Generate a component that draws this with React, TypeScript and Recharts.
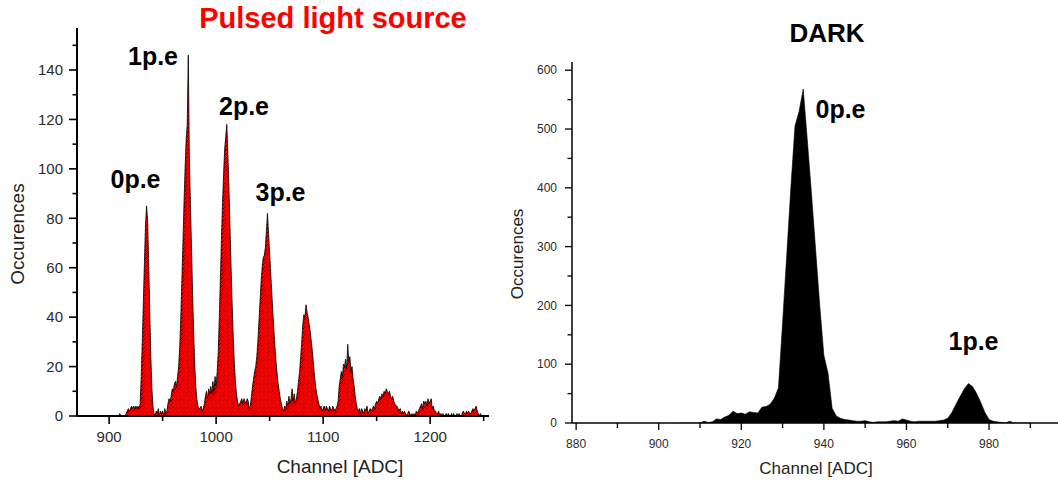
import React from 'react';
import { AreaChart, Area, XAxis, YAxis } from 'recharts';

const FONT = '"Liberation Sans", Arial, Helvetica, sans-serif';

// Pulsed light source: one bin per ADC channel, first bin = 905
const PULSED_FIRST_CHANNEL = 905;
const pulsedCounts = [
  0, 0, 0, 0, 0, 1, 0, 0, 0, 0, // 905
  0, 1, 2, 3, 2, 3, 4, 3, 4, 3, // 915
  4, 3, 4, 3, 5, 16, 30, 46, 62, 77, // 925
  85, 79, 62, 42, 24, 11, 4, 1, 0, 2, // 935
  1, 3, 0, 2, 1, 2, 0, 3, 1, 2, // 945
  5, 7, 6, 8, 11, 10, 13, 14, 12, 16, // 955
  20, 28, 40, 55, 70, 86, 100, 112, 118, 146, // 965
  104, 86, 68, 50, 34, 21, 12, 7, 4, 3, // 975
  3, 4, 2, 3, 5, 8, 10, 7, 11, 9, // 985
  12, 9, 14, 10, 16, 12, 18, 26, 40, 56, // 995
  72, 86, 98, 108, 113, 118, 106, 92, 76, 60, // 1005
  45, 32, 22, 14, 9, 6, 4, 5, 6, 7, // 1015
  5, 7, 6, 5, 7, 6, 3, 4, 8, 12, // 1025
  15, 18, 20, 24, 30, 38, 46, 54, 60, 64, // 1035
  65, 68, 75, 82, 74, 66, 58, 50, 42, 35, // 1045
  28, 22, 17, 13, 10, 7, 5, 3, 2, 4, // 1055
  3, 6, 4, 8, 5, 7, 11, 6, 9, 5, // 1065
  7, 10, 14, 18, 24, 30, 37, 41, 40, 45, // 1075
  42, 40, 37, 34, 30, 26, 21, 16, 12, 9, // 1085
  7, 5, 3, 4, 2, 3, 4, 2, 4, 3, // 1095
  2, 4, 3, 2, 4, 3, 2, 3, 4, 6, // 1105
  12, 15, 18, 16, 21, 20, 23, 19, 29, 22, // 1115
  24, 18, 20, 15, 12, 8, 5, 3, 2, 3, // 1125
  1, 3, 2, 1, 3, 2, 4, 1, 2, 3, // 1135
  2, 3, 4, 3, 5, 6, 5, 7, 8, 7, // 1145
  9, 8, 10, 9, 11, 10, 9, 10, 8, 7, // 1155
  8, 6, 5, 4, 4, 3, 2, 3, 1, 2, // 1165
  1, 2, 1, 0, 1, 2, 1, 0, 1, 0, // 1175
  1, 0, 2, 1, 2, 3, 4, 5, 3, 6, // 1185
  5, 6, 4, 7, 5, 6, 7, 3, 4, 2, // 1195
  2, 1, 1, 2, 0, 1, 0, 1, 0, 0, // 1205
  1, 0, 1, 0, 0, 1, 0, 1, 0, 0, // 1215
  1, 0, 1, 0, 0, 1, 2, 1, 1, 2, // 1225
  1, 2, 1, 1, 2, 3, 2, 3, 4, 2, // 1235
  1, 0, 1, 0, 0, 0, // 1245
];

// Dark counts: one bin per ADC channel, first bin = 905
const DARK_FIRST_CHANNEL = 905;
const darkCounts = [
  0, 0, 0, 0, 0, 0, 3, 1, 2, 7, // 905
  6, 10, 13, 20, 16, 17, 15, 19, 18, 17, // 915
  27, 28, 32, 42, 60, 170, 285, 400, 505, 530, // 925
  568, 480, 390, 295, 200, 115, 85, 25, 12, 8, // 935
  6, 5, 4, 3, 3, 4, 2, 1, 2, 2, // 945
  2, 3, 4, 3, 7, 5, 3, 2, 3, 3, // 955
  3, 3, 3, 4, 5, 8, 18, 32, 45, 58, // 965
  67, 62, 50, 35, 18, 6, 3, 2, 1, 0, // 975
  3, 0, 0, 0, 0, 0, // 985
];

const pulsedXTicks = [900, 950, 1000, 1050, 1100, 1150, 1200, 1250];
const pulsedYTicks = [0, 10, 20, 30, 40, 50, 60, 70, 80, 90, 100, 110, 120, 130, 140, 150];
const darkXTicks = [880, 890, 900, 910, 920, 930, 940, 950, 960, 970, 980, 990];
const darkYTicks = [0, 50, 100, 150, 200, 250, 300, 350, 400, 450, 500, 550, 600];

const pulsedData = pulsedCounts.map((count, i) => ({ channel: PULSED_FIRST_CHANNEL + i, count }));
const darkData = darkCounts.map((count, i) => ({ channel: DARK_FIRST_CHANNEL + i, count }));

const bottomTick = (majorStep: number, fontSize: number, majorLen: number, minorLen: number, labelOffset: number, sw: number) =>
  (props: any) => {
    const { x, y, payload } = props;
    const v = payload.value;
    const major = v % majorStep === 0;
    return (
      <g>
        <line x1={x} x2={x} y1={y} y2={y + (major ? majorLen : minorLen)} stroke="#000" strokeWidth={sw} />
        {major && (
          <text x={x} y={y + labelOffset} textAnchor="middle" fontSize={fontSize} fill="#2a2a2a" fontFamily={FONT}>
            {v}
          </text>
        )}
      </g>
    );
  };

const leftTick = (majorStep: number, fontSize: number, majorLen: number, minorLen: number, labelOffset: number, sw: number) =>
  (props: any) => {
    const { x, y, payload } = props;
    const v = payload.value;
    const major = v % majorStep === 0;
    return (
      <g>
        <line x1={x} x2={x - (major ? majorLen : minorLen)} y1={y} y2={y} stroke="#000" strokeWidth={sw} />
        {major && (
          <text x={x - labelOffset} y={y} dy="0.35em" textAnchor="end" fontSize={fontSize} fill="#2a2a2a" fontFamily={FONT}>
            {v}
          </text>
        )}
      </g>
    );
  };

const PulsedChart = () => (
  <AreaChart width={500} height={483} data={pulsedData} margin={{ top: 28, right: 11, bottom: 27, left: 17 }}>
    <defs>
      <pattern id="hatch" patternUnits="userSpaceOnUse" width="4" height="4">
        <rect width="4" height="4" fill="#ee0000" />
        <path d="M-1,1 l2,-2 M0,4 l4,-4 M3,5 l2,-2" stroke="#200000" strokeWidth="0.85" />
      </pattern>
    </defs>
    <XAxis
      type="number"
      dataKey="channel"
      domain={[870, 1255]}
      allowDataOverflow
      ticks={pulsedXTicks}
      interval={0}
      height={40}
      tickSize={0}
      tickMargin={0}
      tickLine={false}
      axisLine={{ stroke: '#000', strokeWidth: 2 }}
      tick={bottomTick(100, 15, 8, 5, 26, 1.6)}
    />
    <YAxis
      type="number"
      domain={[0, 157]}
      allowDataOverflow
      ticks={pulsedYTicks}
      interval={0}
      width={60}
      tickSize={0}
      tickMargin={0}
      tickLine={false}
      axisLine={{ stroke: '#000', strokeWidth: 2 }}
      tick={leftTick(20, 15, 8, 4.5, 14, 1.6)}
    />
    <Area
      type="linear"
      dataKey="count"
      stroke="#000"
      strokeWidth={0.8}
      fill="url(#hatch)"
      fillOpacity={1}
      dot={false}
      activeDot={false}
      isAnimationActive={false}
    />
  </AreaChart>
);

const DarkChart = () => (
  <AreaChart width={558} height={483} data={darkData} margin={{ top: 62, right: 0, bottom: 20, left: 12 }}>
    <XAxis
      type="number"
      dataKey="channel"
      domain={[879, 996.7]}
      allowDataOverflow
      ticks={darkXTicks}
      interval={0}
      height={40}
      tickSize={0}
      tickMargin={0}
      tickLine={false}
      axisLine={{ stroke: '#000', strokeWidth: 1.5 }}
      tick={bottomTick(20, 12, 7, 5, 25, 1.3)}
    />
    <YAxis
      type="number"
      domain={[0, 614]}
      allowDataOverflow
      ticks={darkYTicks}
      interval={0}
      width={60}
      tickSize={0}
      tickMargin={0}
      tickLine={false}
      axisLine={{ stroke: '#000', strokeWidth: 1.5 }}
      tick={leftTick(100, 12, 7, 4.5, 15, 1.3)}
    />
    <Area
      type="linear"
      dataKey="count"
      stroke="#000"
      strokeWidth={0.6}
      fill="#000"
      fillOpacity={1}
      dot={false}
      activeDot={false}
      isAnimationActive={false}
    />
  </AreaChart>
);

const peakStyle = { fontFamily: FONT, fontWeight: 700, fontSize: 25, fill: '#000' } as const;

export default function App() {
  return (
    <div style={{ position: 'absolute', left: 0, top: 0, width: 1058, height: 483, background: '#fff', overflow: 'hidden' }}>
      <div style={{ position: 'absolute', left: 0, top: 0 }}>
        <PulsedChart />
      </div>
      <div style={{ position: 'absolute', left: 500, top: 0 }}>
        <DarkChart />
      </div>
      <svg width={1058} height={483} style={{ position: 'absolute', left: 0, top: 0, pointerEvents: 'none' }}>
        <text x={333} y={28} textAnchor="middle" fontFamily={FONT} fontWeight={700} fontSize={29} fill="#ff0000">
          Pulsed light source
        </text>
        <text x={827} y={42} textAnchor="middle" fontFamily={FONT} fontWeight={700} fontSize={26} fill="#000">
          DARK
        </text>

        <text x={153} y={65} textAnchor="middle" {...peakStyle}>1p.e</text>
        <text x={135.5} y={188} textAnchor="middle" {...peakStyle}>0p.e</text>
        <text x={244} y={115} textAnchor="middle" {...peakStyle}>2p.e</text>
        <text x={280.5} y={201} textAnchor="middle" {...peakStyle}>3p.e</text>
        <text x={840.5} y={118} textAnchor="middle" {...peakStyle}>0p.e</text>
        <text x={973.5} y={350} textAnchor="middle" {...peakStyle}>1p.e</text>

        <text x={340} y={473} textAnchor="middle" fontFamily={FONT} fontSize={19} fill="#222">
          Channel [ADC]
        </text>
        <text transform="translate(24,234) rotate(-90)" textAnchor="middle" fontFamily={FONT} fontSize={19} fill="#222">
          Occurences
        </text>
        <text x={816} y={474} textAnchor="middle" fontFamily={FONT} fontSize={17} fill="#222">
          Channel [ADC]
        </text>
        <text transform="translate(523,254) rotate(-90)" textAnchor="middle" fontFamily={FONT} fontSize={17} fill="#222">
          Occurences
        </text>
      </svg>
    </div>
  );
}
